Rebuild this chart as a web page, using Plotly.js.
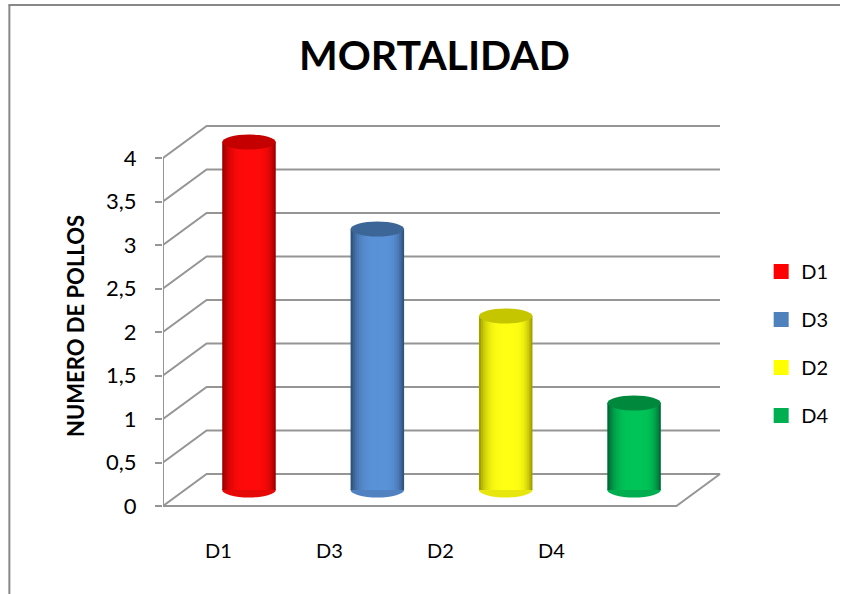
<!DOCTYPE html>
<html><head><meta charset="utf-8">
<script src="https://cdn.plot.ly/plotly-3.0.1.min.js"></script>
<style>html,body{margin:0;padding:0;background:#fff}#chart{width:846px;height:594px}</style>
</head><body><div id="chart"></div>
<script>
// ---- data ----
const categories = ['D1', 'D3', 'D2', 'D4'];
const values = [4, 3, 2, 1];
const yTickValues = [0, 0.5, 1, 1.5, 2, 2.5, 3, 3.5, 4];
const titleText = 'MORTALIDAD';
const yTitleText = 'NUMERO DE POLLOS';

// ---- styles ----
const legendColors = ['#FF0000', '#4F81BD', '#FFFF00', '#00B050'];
const lightColors  = ['#FF0A0A', '#5A92D8', '#FFFF14', '#00C457'];
const darkColors   = ['#A00000', '#30537C', '#A0A000', '#006A36'];
const topColors    = ['#C40000', '#3D6698', '#C6C600', '#00883D'];
const frameColor = '#959595';
const FONT = 'Lato, "Open Sans", sans-serif';

// ---- geometry (pixel layout of the pseudo-3D frame) ----
const L = 163, R = 730, T = 115, B = 537;
const pxPerCat = 129.5, pxPerVal = 87, y0px = 506;
const yr = [(y0px - B) / pxPerVal, (y0px - T) / pxPerVal];
const xr = [-0.5, -0.5 + (R - L) / pxPerCat];
const depthDx = 44 / pxPerCat, depthDy = 32 / pxPerVal;
const midDx = depthDx / 2, midDy = depthDy / 2;
const barW = 54 / pxPerCat;
const ellR = 7.5 / pxPerVal;
const nCat = categories.length;

function hex2rgb(h){ return [1,3,5].map(i => parseInt(h.substr(i,2),16)); }
function mix(c1, c2, t){
  const a = hex2rgb(c1), b = hex2rgb(c2);
  return 'rgb(' + a.map((v,i) => Math.round(v + (b[i]-v)*t)).join(',') + ')';
}

const traces = [];

// legend entries
categories.forEach((c, i) => {
  traces.push({type:'scatter', mode:'markers', x:[null], y:[null], name:c, legendgroup:c,
    marker:{symbol:'square', size:15, color:legendColors[i]}, hoverinfo:'skip'});
});

// frame: back wall gridlines, left wall diagonals, front axis line, floor
const fx = [], fy = [];
const xF0 = -0.5, xF1 = nCat - 0.5;
yTickValues.forEach(v => {
  fx.push(xF0, xF0 + depthDx, xF1 + depthDx, null);
  fy.push(v, v + depthDy, v + depthDy, null);
});
fx.push(xF0, xF0, null); fy.push(yTickValues[0], yTickValues[yTickValues.length-1], null);
fx.push(xF0, xF1, xF1 + depthDx); fy.push(0, 0, depthDy);
traces.push({type:'scatter', mode:'lines', x:fx, y:fy, xaxis:'x', yaxis:'y',
  line:{color:frameColor, width:2}, showlegend:false, hoverinfo:'skip'});

// category label axis carrier
traces.push({type:'scatter', mode:'markers', x:categories, y:values, xaxis:'x2', yaxis:'y',
  marker:{opacity:0}, showlegend:false, hoverinfo:'skip'});

// cylinders: nested overlay bars give the horizontal shading
const N = 14, h = 0.56;
for (let k = 0; k < N; k++) {
  const s = 1 - k / N;
  const a = h - h * s, b = h + (1 - h) * s;
  const m = 1 - Math.pow(s, 4);
  traces.push({type:'bar', x:categories, y:values, xaxis:'x3', yaxis:'y3',
    width:categories.map(() => (b - a) * barW),
    offset:categories.map(() => (a - 0.5) * barW),
    marker:{color:categories.map((c, i) => mix(darkColors[i], lightColors[i], m)), line:{width:0}},
    name:'layer' + k, showlegend:false, hoverinfo:'skip'});
}

const shapes = [];
categories.forEach((c, i) => {
  const x0 = i - barW / 2, x1 = i + barW / 2;
  shapes.push({type:'circle', xref:'x3', yref:'y3', x0:x0, x1:x1, y0:values[i] - ellR, y1:values[i] + ellR,
    fillcolor:topColors[i], line:{width:0}, layer:'above'});
  shapes.push({type:'circle', xref:'x3', yref:'y3', x0:x0, x1:x1, y0:-ellR, y1:ellR,
    fillcolor:mix(darkColors[i], lightColors[i], 0.75), line:{width:0}, layer:'below'});
});
// chart area border (top and left)
const px2x = p => (p - L) / (R - L), px2y = p => (B - p) / (B - T);
shapes.push({type:'line', xref:'paper', yref:'paper', x0:px2x(7), x1:px2x(846), y0:px2y(5), y1:px2y(5), line:{color:'#888888', width:2}});
shapes.push({type:'line', xref:'paper', yref:'paper', x0:px2x(8), x1:px2x(8), y0:px2y(5), y1:px2y(594), line:{color:'#888888', width:2}});

const layout = {
  width:846, height:594,
  margin:{l:L, r:846 - R, t:T, b:594 - B, pad:0},
  paper_bgcolor:'#ffffff', plot_bgcolor:'rgba(0,0,0,0)',
  separators:',.',
  font:{family:FONT, color:'#000000'},
  barmode:'overlay',
  title:{text:'<b>' + titleText + '</b>', font:{family:FONT, size:41, color:'#000000'},
    xref:'container', yref:'container', x:434.5/846, y:1 - 55.5/594, xanchor:'center', yanchor:'middle'},
  xaxis:{range:xr, visible:false, fixedrange:true},
  yaxis:{range:yr, tickmode:'array', tickvals:yTickValues, showgrid:false, zeroline:false, showline:false,
    ticks:'outside', ticklen:7, tickwidth:2, tickcolor:frameColor, ticklabelstandoff:14,
    tickfont:{family:FONT, size:22, color:'#000000'}, fixedrange:true,
    title:{text:'<b>' + yTitleText + '</b>', font:{family:FONT, size:22, color:'#000000'}, standoff:15}},
  xaxis2:{type:'category', categoryorder:'array', categoryarray:categories, range:[-0.5, nCat - 0.5],
    domain:[0, 0.79], anchor:'y', showgrid:false, zeroline:false, showline:false, ticks:'',
    tickfont:{family:FONT, size:20, color:'#000000'}, fixedrange:true},
  xaxis3:{type:'category', categoryorder:'array', categoryarray:categories,
    range:[xr[0] - midDx, xr[1] - midDx], overlaying:'x', visible:false, fixedrange:true},
  yaxis3:{range:[yr[0] - midDy, yr[1] - midDy], overlaying:'y', visible:false, fixedrange:true},
  showlegend:true,
  legend:{x:(766.5 - L)/(R - L), y:(B - 252)/(B - T), xanchor:'left', yanchor:'top',
    font:{family:FONT, size:20, color:'#000000'}, tracegroupgap:19, bgcolor:'rgba(0,0,0,0)'},
  shapes:shapes
};

Plotly.newPlot('chart', traces, layout, {displayModeBar:false, staticPlot:true});
</script>
</body></html>
